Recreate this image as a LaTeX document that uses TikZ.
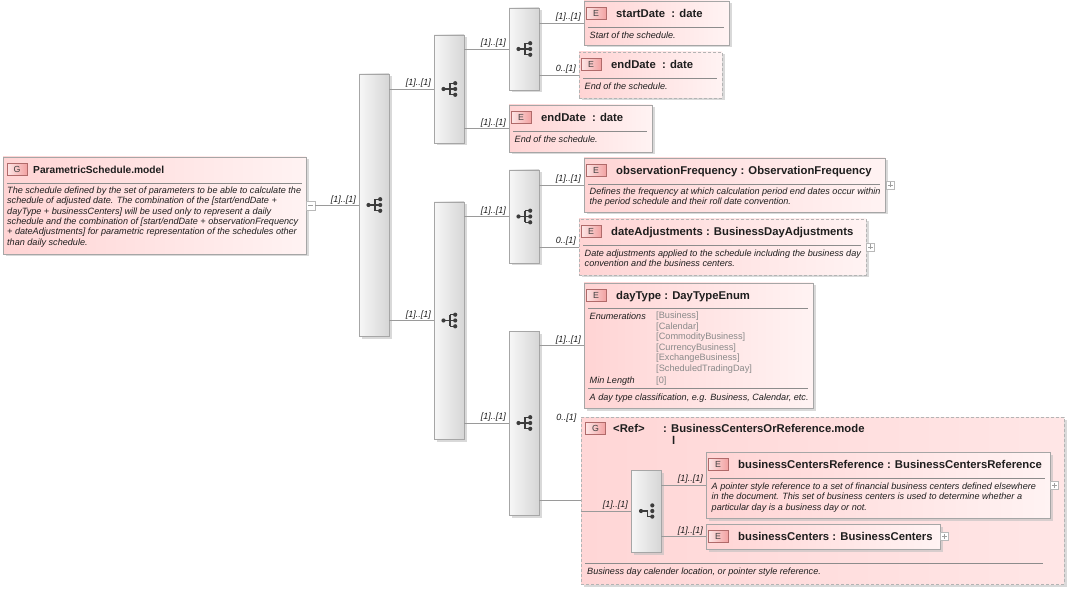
\documentclass[tikz,border=0pt]{standalone}
\usepackage{fontspec}
\setmainfont{Liberation Sans}
\usetikzlibrary{fit,shadows}
\definecolor{elemL}{HTML}{FFD4D4}
\definecolor{elemR}{HTML}{FFF3F3}
\definecolor{grpL}{HTML}{FFD6D6}
\definecolor{grpR}{HTML}{FFE6E6}
\definecolor{bordc}{HTML}{A6A6A6}
\definecolor{dashc}{HTML}{B4B4B4}
\definecolor{seqL}{HTML}{F7F7F7}
\definecolor{seqR}{HTML}{D6D6D6}
\definecolor{connc}{HTML}{9A9A9A}
\definecolor{sepc}{HTML}{8C8C8C}
\definecolor{txt}{HTML}{1E1E1E}
\definecolor{enumc}{HTML}{8A8A8A}
\definecolor{badgeT}{HTML}{FDE6E6}
\definecolor{badgeB}{HTML}{F2A2A2}
\definecolor{badgeD}{HTML}{B06A6A}
\definecolor{icoc}{HTML}{3C3C3C}
\newcommand\seqicon[1]{%
  \begin{scope}[shift={(#1.center)}]
    \draw[draw=icoc, line width=1.1pt] (-5.5,0) -- (1,0) (1,-5.8) -- (1,5.8) (1,-5.8) -- (6.2,-5.8) (1,0) -- (6.2,0) (1,5.8) -- (6.2,5.8);
    \fill[icoc] (-5.5,0) circle (2.1pt) (6.2,-5.8) circle (2.1pt) (6.2,0) circle (2.1pt) (6.2,5.8) circle (2.1pt);
  \end{scope}}
\newcommand\choiceicon[1]{%
  \begin{scope}[shift={(#1.center)}]
    \draw[draw=icoc, line width=1.1pt] (-5,0) -- (1.3,0) -- (1.3,5.6) -- (6.3,5.6);
    \fill[icoc] (-5,0) circle (2.1pt) (6.3,-5.6) circle (2.1pt) (6.3,0) circle (2.1pt) (6.3,5.6) circle (2.1pt);
  \end{scope}}
\newcommand\plusmark[1]{%
  \draw[gray!75, line width=0.6pt] ([xshift=-2.5pt]#1.center) -- ([xshift=2.5pt]#1.center) ([yshift=-2.5pt]#1.center) -- ([yshift=2.5pt]#1.center);}
\begin{document}
\begin{tikzpicture}[x=1pt,y=-1pt,
  base/.style={inner sep=0pt, line width=0.7pt},
  shad/.style={drop shadow={shadow xshift=2.5pt,shadow yshift=-2.5pt,fill=black!25,opacity=0.6}},
  elembox/.style={base, draw=bordc, left color=elemL, right color=elemR, shad},
  optbox/.style={elembox, draw=dashc, dash pattern=on 3pt off 2pt},
  grpbox/.style={base, draw=dashc, dash pattern=on 3pt off 2pt, left color=grpL, right color=grpR, shad},
  seqbox/.style={base, draw=bordc, left color=seqL, right color=seqR, shad},
  badge/.style={draw=badgeD, line width=0.6pt, left color=badgeT, right color=badgeB, minimum width=20pt, minimum height=12pt, inner sep=0pt, font=\fontsize{8.8}{10}\selectfont, text=txt!85},
  ttl/.style={anchor=west, inner sep=0pt, text height=8pt, text depth=0pt, font=\bfseries\fontsize{11.3}{13}\selectfont, text=txt},
  desc/.style={anchor=north west, inner sep=0pt, align=left, font=\itshape\fontsize{9.1}{10.4}\selectfont, text=txt},
  enumv/.style={anchor=west, inner sep=0pt, font=\fontsize{9.2}{10}\selectfont, text=enumc},
  enumk/.style={anchor=west, inner sep=0pt, font=\itshape\fontsize{9.1}{10}\selectfont, text=txt},
  card/.style={font=\itshape\fontsize{9}{10}\selectfont, text=txt, inner sep=1pt, anchor=south east, xshift=-1.5pt},
  conn/.style={draw=connc, line width=0.7pt},
  sepline/.style={draw=sepc, line width=0.6pt},
  btn/.style={draw=gray!55, fill=white, line width=0.5pt, minimum size=8pt, inner sep=0pt},
]
\useasboundingbox (0,0) rectangle (1070,593);

% ---------- main group ----------
\node[elembox, fit={(3,157) (306,254)}] (main) {};
\node[badge] (bMain) at (17,169.5) {G};
\node[ttl, font=\bfseries\fontsize{10.2}{12}\selectfont] (tMain) at (33,169.5) {ParametricSchedule.model};
\draw[sepline] (7,183) -- (302,183);
\node[desc] (dMain) at (7,186.6) {The schedule defined by the set of parameters to be able to calculate the\\schedule of adjusted date. The combination of the [start/endDate +\\dayType + businessCenters] will be used only to represent a daily\\schedule and the combination of [start/endDate + observationFrequency\\+ dateAdjustments] for parametric representation of the schedules other\\than daily schedule.};
\node[btn, minimum size=9pt] (minus) at (310.5,205.5) {};
\draw[gray!75, line width=0.6pt] ([xshift=-2.5pt]minus.center) -- ([xshift=2.5pt]minus.center);

% ---------- compositors ----------
\node[seqbox, fit={(359,74) (389,336)}] (seq1) {};
\node[seqbox, fit={(434,35) (464,143)}] (seq2) {};
\node[seqbox, fit={(434,202) (464,439)}] (seq3) {};
\node[seqbox, fit={(509,8) (539,90)}] (seq4) {};
\node[seqbox, fit={(509,170) (539,263)}] (seq5) {};
\node[seqbox, fit={(509,331) (539,515)}] (seq6) {};
\seqicon{seq1}\seqicon{seq2}\seqicon{seq3}\seqicon{seq4}\seqicon{seq5}\seqicon{seq6}

% ---------- startDate ----------
\node[elembox, fit={(584,1) (729,45)}] (startDate) {};
\node[badge] (bSD) at (596,13.5) {E};
\node[ttl] (tSD) at (616,13.5) {startDate\ \ : date};
\draw[sepline] (588,27) -- (724,27);
\node[desc] (dSD) at (589.5,31.6) {Start of the schedule.};

% ---------- endDate (optional) ----------
\node[optbox, fit={(579,52) (722,98)}] (endDateA) {};
\node[badge] (bEDA) at (591,64.5) {E};
\node[ttl] (tEDA) at (611,64.5) {endDate\ \ : date};
\draw[sepline] (583,78) -- (717,78);
\node[desc] (dEDA) at (584.5,82.6) {End of the schedule.};

% ---------- endDate ----------
\node[elembox, fit={(509,105) (652,152)}] (endDateB) {};
\node[badge] (bEDB) at (521,117.5) {E};
\node[ttl] (tEDB) at (541,117.5) {endDate\ \ : date};
\draw[sepline] (513,131) -- (647,131);
\node[desc] (dEDB) at (514.5,135.6) {End of the schedule.};

% ---------- observationFrequency ----------
\node[elembox, fit={(584,158) (885,212)}] (obsFreq) {};
\node[badge] (bOF) at (596,170.5) {E};
\node[ttl] (tOF) at (616,170.5) {observationFrequency : ObservationFrequency};
\draw[sepline] (588,184) -- (880,184);
\node[desc] (dOF) at (589.5,187.6) {Defines the frequency at which calculation period end dates occur within\\the period schedule and their roll date convention.};
\node[btn] (pOF) at (890,185) {};
\plusmark{pOF}

% ---------- dateAdjustments ----------
\node[optbox, fit={(579,219) (866,275)}] (dateAdj) {};
\node[badge] (bDA) at (591,231.5) {E};
\node[ttl] (tDA) at (611,231.5) {dateAdjustments : BusinessDayAdjustments};
\draw[sepline] (583,245.5) -- (861,245.5);
\node[desc] (dDA) at (584.5,249.6) {Date adjustments applied to the schedule including the business day\\convention and the business centers.};
\node[btn] (pDA) at (870.5,247) {};
\plusmark{pDA}

% ---------- dayType ----------
\node[elembox, fit={(584,283) (813,408)}] (dayType) {};
\node[badge] (bDT) at (596,295.5) {E};
\node[ttl] (tDT) at (616,295.5) {dayType : DayTypeEnum};
\draw[sepline] (588,308.5) -- (808,308.5);
\node[enumk] (kEn) at (589.5,316.5) {Enumerations};
\node[enumv] (v1) at (656,316.5) {[Business]};
\node[enumv] (v2) at (656,327) {[Calendar]};
\node[enumv] (v3) at (656,337.5) {[CommodityBusiness]};
\node[enumv] (v4) at (656,348) {[CurrencyBusiness]};
\node[enumv] (v5) at (656,358.5) {[ExchangeBusiness]};
\node[enumv] (v6) at (656,369) {[ScheduledTradingDay]};
\node[enumk] (kMin) at (589.5,381) {Min Length};
\node[enumv] (v7) at (656,381) {[0]};
\draw[sepline] (588,388.5) -- (808,388.5);
\node[desc] (dDT) at (589.5,393.6) {A day type classification, e.g. Business, Calendar, etc.};

% ---------- group BusinessCentersOrReference ----------
\node[grpbox, fit={(581,417) (1064,584)}] (group) {};
\node[badge] (bGR) at (595.5,428.5) {G};
\node[ttl] (tGR1) at (613,428.5) {<Ref>};
\node[ttl] (tGR2) at (663,428.5) {: BusinessCentersOrReference.mode};
\node[ttl] (tGR3) at (672,440.5) {l};
\draw[sepline] (585,563) -- (1043,563);
\node[desc] (dGR) at (587,567.6) {Business day calender location, or pointer style reference.};

\node[seqbox, fit={(631,470) (661,552)}] (choice) {};
\choiceicon{choice}

\node[elembox, fit={(706,452) (1050,518)}] (bcRef) {};
\node[badge] (bBR) at (718,464.5) {E};
\node[ttl] (tBR) at (738,464.5) {businessCentersReference : BusinessCentersReference};
\draw[sepline] (710,478) -- (1045,478);
\node[desc] (dBR) at (711.5,482.6) {A pointer style reference to a set of financial business centers defined elsewhere\\in the document. This set of business centers is used to determine whether a\\particular day is a business day or not.};
\node[btn] (pBR) at (1054.5,485) {};
\plusmark{pBR}

\node[elembox, fit={(706,524) (940,549)}] (bc) {};
\node[badge] (bBC) at (718,536.5) {E};
\node[ttl] (tBC) at (738,536.5) {businessCenters : BusinessCenters};
\node[btn] (pBC) at (944.5,536.5) {};
\plusmark{pBC}

% ---------- connectors ----------
\draw[conn] (minus.east) -- (minus.east -| seq1.west) node[card, pos=1] (c0) {[1]..[1]};
\draw[conn] (seq1.east |- seq2.west) -- (seq2.west) node[card, pos=1] (c1) {[1]..[1]};
\draw[conn] (seq1.east |- seq3.west) -- (seq3.west) node[card, pos=1] (c2) {[1]..[1]};
\draw[conn] (seq2.east |- seq4.west) -- (seq4.west) node[card, pos=1] (c3) {[1]..[1]};
\draw[conn] (seq2.east |- endDateB.west) -- (endDateB.west) node[card, pos=1] (c4) {[1]..[1]};
\draw[conn] (seq4.east |- startDate.west) -- (startDate.west) node[card, pos=1] (c5) {[1]..[1]};
\draw[conn] (seq4.east |- endDateA.west) -- (endDateA.west) node[card, pos=1] (c6) {0..[1]};
\draw[conn] (seq3.east |- seq5.west) -- (seq5.west) node[card, pos=1] (c7) {[1]..[1]};
\draw[conn] (seq3.east |- seq6.west) -- (seq6.west) node[card, pos=1] (c8) {[1]..[1]};
\draw[conn] (seq5.east |- obsFreq.west) -- (obsFreq.west) node[card, pos=1] (c9) {[1]..[1]};
\draw[conn] (seq5.east |- dateAdj.west) -- (dateAdj.west) node[card, pos=1] (c10) {0..[1]};
\draw[conn] (seq6.east |- dayType.west) -- (dayType.west) node[card, pos=1] (c11) {[1]..[1]};
\draw[conn] (seq6.east |- group.west) -- (group.west);
\node[card, anchor=east, xshift=0pt] (c12) at (579,418) {0..[1]};
\draw[conn] (group.west |- choice.west) -- (choice.west) node[card, pos=1] (c13) {[1]..[1]};
\draw[conn] (choice.east |- bcRef.west) -- (bcRef.west) node[card, pos=1] (c14) {[1]..[1]};
\draw[conn] (choice.east |- bc.west) -- (bc.west) node[card, pos=1] (c15) {[1]..[1]};
\end{tikzpicture}
\end{document}
